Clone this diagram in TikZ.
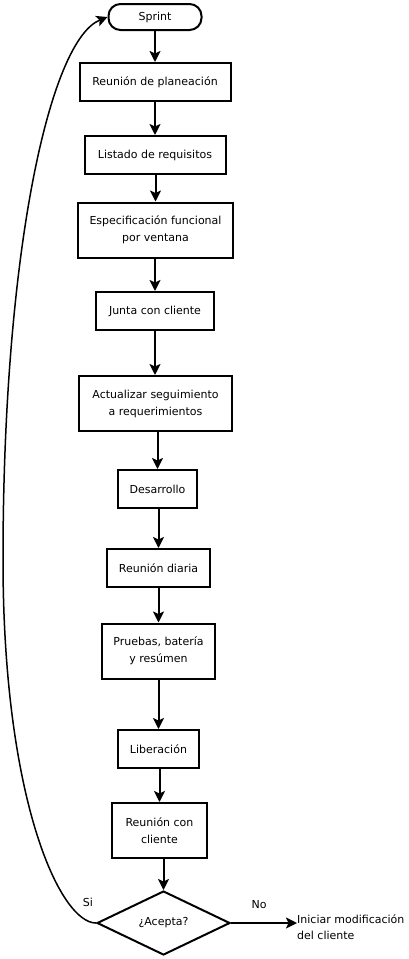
\documentclass[tikz,border=0pt]{standalone}
\usepackage{fontspec}
\setmainfont{DejaVu Sans}
\usetikzlibrary{arrows.meta,shapes.geometric}

\begin{document}
\begin{tikzpicture}[x=1pt, y=-1pt,
  stepbox/.style={draw, line width=2pt, inner sep=0pt, align=center, font=\fontsize{11}{17}\selectfont},
  flow/.style={line width=2pt, -{Stealth[length=11pt,width=11pt,inset=2.5pt]}},
  tag/.style={inner sep=0pt, font=\fontsize{11}{16}\selectfont}]
\def\boxh{38}
\def\boxhh{55}
\useasboundingbox (0,0) rectangle (408,959);

% TOP
\node[stepbox, rounded corners=12pt, minimum width=93, minimum height=26] (sprint) at (155,17) {Sprint};
\node[stepbox, minimum width=151, minimum height=\boxh] (planeacion) at (155,82) {Reunión de planeación};
\node[stepbox, minimum width=141, minimum height=\boxh] (listado) at (155,155) {Listado de requisitos};
\node[stepbox, minimum width=155, minimum height=\boxhh] (especificacion) at (155.5,230) {Especificación funcional\\por ventana};
\node[stepbox, minimum width=118, minimum height=\boxh] (junta) at (155,311) {Junta con cliente};
\node[stepbox, minimum width=153, minimum height=\boxhh] (seguimiento) at (155.5,403.5) {Actualizar seguimiento\\a requerimientos};

% MIDDLE
\node[stepbox, minimum width=79, minimum height=\boxh] (desarrollo) at (157.5,489) {Desarrollo};
\node[stepbox, minimum width=103, minimum height=\boxh] (diaria) at (158.5,568) {Reunión diaria};
\node[stepbox, minimum width=113, minimum height=\boxhh] (pruebas) at (158.5,651) {Pruebas, batería\\y resúmen};
\node[stepbox, minimum width=81, minimum height=\boxh] (liberacion) at (158.5,749) {Liberación};
\node[stepbox, minimum width=95, minimum height=\boxhh] (reunion) at (159.5,830.5) {Reunión con\\cliente};

% DECISION
\node[stepbox, diamond, aspect=2.08, minimum width=133, minimum height=64] (acepta) at (163.5,923) {¿Acepta?};
\node[tag, anchor=west, align=left] (iniciar) at (297,927) {Iniciar modificación\\del cliente};
\node[tag] (no) at (259,905) {No};
\node[tag] (si) at (88,902) {Si};
\coordinate (loop) at (3,560);

\draw[flow] (sprint) -- (planeacion);
\draw[flow] (planeacion) -- (listado);
\draw[flow] (listado.south -| especificacion.north) -- (especificacion.north);
\draw[flow] (especificacion.south -| junta.north) -- (junta.north);
\draw[flow] (junta.south) -- (seguimiento.north -| junta.south);
\draw[flow] (seguimiento.south -| desarrollo.north) -- (desarrollo.north);
\draw[flow] (desarrollo.south -| diaria.north) -- (diaria.north);
\draw[flow] (diaria) -- (pruebas);
\draw[flow] (pruebas) -- (liberacion);
\draw[flow] (liberacion.south -| reunion.north) -- (reunion.north);
\draw[flow] (reunion.south -| acepta.north) -- (acepta.north);
\draw[flow] (acepta.east) -- (iniciar.west |- acepta.east);
\draw[flow, line width=1.5pt] (acepta.west) .. controls (60,923) and (3,800) .. (loop)
  .. controls (3,250) and (50,40) .. (sprint.west);
\end{tikzpicture}
\end{document}
